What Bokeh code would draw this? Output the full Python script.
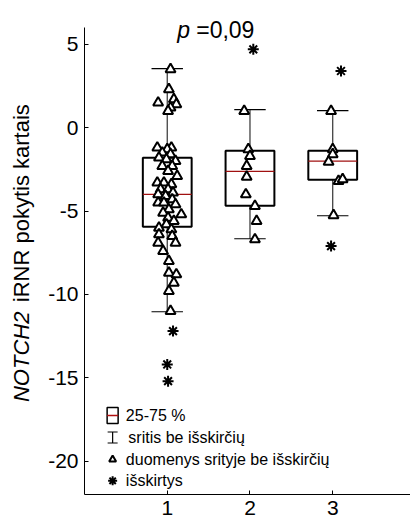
import math
from bokeh.plotting import figure
from bokeh.layouts import row
from bokeh.models import Range1d, FixedTicker, Label
from bokeh.embed import file_html
from bokeh.resources import INLINE
from bokeh.core.properties import value

FONT = "Liberation Sans"

# ---------------- data ----------------
categories = [1, 2, 3]
x_tick_labels = ["1", "2", "3"]
y_ticks = [-20, -15, -10, -5, 0, 5]
y_tick_labels = ["-20", "-15", "-10", "-5", "0", "5"]

# box statistics
q1 = [-5.94, -4.68, -3.12]
median = [-4.0, -2.62, -2.0]
q3 = [-1.8, -1.38, -1.38]
whisker_lo = [-11.04, -6.66, -5.28]
whisker_hi = [3.54, 1.08, 1.02]

# points inside the whisker range (value, horizontal offset)
g1_values = [3.5, 2.3, 1.7, 1.5, 1.4, 1.2, 1.0, -1.2, -1.2, -1.3, -1.5, -1.6, -1.8,
             -1.9, -2.0, -2.3, -2.3, -2.6, -2.9, -3.3, -3.3, -3.4, -3.7, -3.7, -3.9,
             -4.0, -4.1, -4.3, -4.5, -4.5, -4.6, -4.9, -5.1, -5.2, -5.4, -5.6, -5.8,
             -6.0, -6.1, -6.4, -6.5, -6.9, -6.9, -7.4, -8.0, -8.7, -8.8, -9.3, -9.8, -11.0]
g1_offsets = [0.04, 0.02, 0.08, -0.11, 0.11, 0.04, 0.01, -0.12, 0.05, 0.0, -0.06, 0.04, -0.10,
              -0.01, 0.10, -0.06, 0.06, 0.01, 0.12, -0.12, -0.04, 0.05, -0.08, 0.01, 0.07,
              -0.11, -0.02, 0.06, -0.11, -0.04, 0.10, 0.02, -0.05, 0.17, 0.01, 0.08, -0.01,
              -0.10, 0.05, -0.10, 0.06, -0.11, 0.10, -0.05, 0.02, 0.02, 0.11, 0.08, 0.02, 0.04]
g2_values = [1.0, -1.3, -1.7, -2.3, -2.95, -4.0, -4.7, -5.6, -6.7]
g2_offsets = [-0.07, -0.02, 0.0, -0.04, -0.04, -0.05, 0.06, 0.08, 0.06]
g3_values = [1.0, -1.3, -1.6, -2.05, -3.2, -3.1, -5.25]
g3_offsets = [-0.02, 0.0, 0.0, -0.05, 0.07, 0.12, 0.01]

# outliers
outlier_group = [1, 1, 1, 2, 3, 3]
outlier_values = [-12.2, -14.2, -15.2, 4.7, 3.4, -7.1]
outlier_offsets = [0.07, 0.0, 0.01, 0.04, 0.10, -0.02]

legend_labels = ["25-75 %", "sritis be išskirčių", "duomenys srityje be išskirčių", "išskirtys"]
title_p = "p"
title_rest = "=0,09"
ylabel_italic = "NOTCH2"
ylabel_rest = "iRNR pokytis kartais"

W, H = 410, 524
LAB_W = 45

# ---------------- y-label strip ----------------
lab = figure(width=LAB_W, height=H, output_backend="svg", toolbar_location=None,
             title=None, x_axis_location=None, y_axis_location=None,
             x_range=Range1d(0, LAB_W), y_range=Range1d(0, H),
             min_border=0, min_border_left=0, min_border_right=0,
             min_border_top=0, min_border_bottom=0)
lab.grid.visible = False
lab.outline_line_color = None
lab.text(x=[21], y=[H - 330], text=[ylabel_italic], angle=math.pi / 2,
         text_font=value(FONT), text_font_style="italic", text_font_size="22px",
         text_align="right", text_baseline="middle", text_color="black")
lab.text(x=[21], y=[H - 110], text=[ylabel_rest], angle=math.pi / 2,
         text_font=value(FONT), text_font_size="22px",
         text_align="right", text_baseline="middle", text_color="black")

# ---------------- main figure ----------------
p = figure(width=W - LAB_W, height=H, output_backend="svg", toolbar_location=None,
           x_range=Range1d(0, 3.94), y_range=Range1d(-22, 7.63),
           min_border_left=83 - LAB_W, min_border_right=0, min_border_top=0, min_border_bottom=30)
p.outline_line_color = None
p.xgrid.grid_line_color = None
p.ygrid.grid_line_color = None

for ax in (p.xaxis[0], p.yaxis[0]):
    ax.axis_line_color = "black"
    ax.axis_line_width = 1
    ax.major_tick_in = 4
    ax.major_tick_out = 0
    ax.minor_tick_line_color = None
    ax.major_tick_line_color = "black"
    ax.major_label_text_font = FONT
    ax.major_label_text_font_size = "21px"
    ax.major_label_text_color = "black"

p.yaxis[0].ticker = FixedTicker(ticks=y_ticks)
p.yaxis[0].major_label_overrides = {t: s for t, s in zip(y_ticks, y_tick_labels)}
p.yaxis[0].bounds = (-22, 6)
p.yaxis[0].major_label_standoff = 6
p.xaxis[0].ticker = FixedTicker(ticks=categories)
p.xaxis[0].major_label_overrides = {t: s for t, s in zip(categories, x_tick_labels)}
p.xaxis[0].major_label_standoff = 6

box_half = 0.295
cap_half = 0.19
# whisker stems
p.segment(x0=categories, y0=q3, x1=categories, y1=whisker_hi, line_color="#333333", line_width=1.2)
p.segment(x0=categories, y0=whisker_lo, x1=categories, y1=q1, line_color="#333333", line_width=1.2)
# caps
p.segment(x0=[c - cap_half for c in categories], y0=whisker_hi,
          x1=[c + cap_half for c in categories], y1=whisker_hi, line_color="black", line_width=1.2)
p.segment(x0=[c - cap_half for c in categories], y0=whisker_lo,
          x1=[c + cap_half for c in categories], y1=whisker_lo, line_color="black", line_width=1.2)
# boxes
p.quad(left=[c - box_half for c in categories], right=[c + box_half for c in categories],
       bottom=q1, top=q3, fill_color="white", line_color="black", line_width=2)
# medians
p.segment(x0=[c - box_half for c in categories], y0=median,
          x1=[c + box_half for c in categories], y1=median, line_color="#a01010", line_width=1.2)

# points
px = ([categories[0] + o for o in g1_offsets] + [categories[1] + o for o in g2_offsets]
      + [categories[2] + o for o in g3_offsets])
py = g1_values + g2_values + g3_values
p.scatter(px, py, marker="triangle", size=10, fill_color="white", line_color="black", line_width=2)

ox = [g + o for g, o in zip(outlier_group, outlier_offsets)]
p.scatter(ox, outlier_values, marker="asterisk", size=11, line_color="black", line_width=2)

# title
p.add_layout(Label(x=1.277, y=5.89, text=title_p, text_font=FONT, text_font_style="italic",
                   text_font_size="23px", text_align="right", text_baseline="alphabetic",
                   text_color="black"))
p.add_layout(Label(x=1.35, y=5.89, text=title_rest, text_font=FONT,
                   text_font_size="23px", text_align="left", text_baseline="alphabetic",
                   text_color="black"))

# legend (decoration)
lx_icon = 0.34
lx_text = 0.5
rows = [-17.26, -18.58, -19.9, -21.18]
p.rect([lx_icon], [rows[0]], width=11, height=16, width_units="screen", height_units="screen",
       fill_color="white", line_color="black", line_width=1.5)
p.scatter([lx_icon], [rows[0]], marker="dash", size=11, line_color="#b01010", line_width=1.5)
p.segment(x0=[lx_icon], y0=[rows[1] - 0.33], x1=[lx_icon], y1=[rows[1] + 0.33], line_color="black", line_width=1.2)
p.scatter([lx_icon, lx_icon], [rows[1] - 0.33, rows[1] + 0.33], marker="dash", size=10, line_color="black", line_width=1.2)
p.scatter([lx_icon], [rows[2]], marker="triangle", size=7, fill_color="white", line_color="black", line_width=2)
p.scatter([lx_icon], [rows[3]], marker="asterisk", size=9, line_color="black", line_width=2)
p.text(x=[lx_text, lx_text + 0.03, lx_text, lx_text], y=rows, text=legend_labels,
       text_font=value(FONT), text_font_size="16px", text_baseline="middle", text_align="left",
       text_color="black")

layout = row(lab, p, spacing=0)
open("out.html", "w").write(file_html(layout, INLINE))
